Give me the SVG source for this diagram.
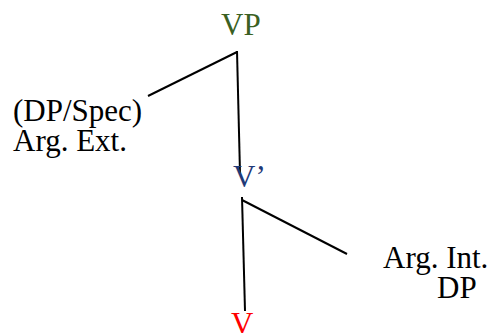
<svg xmlns="http://www.w3.org/2000/svg" width="491" height="333" viewBox="0 0 491 333">
<style>
text{font-family:"Liberation Serif","Times New Roman",serif;font-size:31px;fill:#000}
.e{stroke:#000;stroke-width:2;fill:none}
</style>
<rect width="491" height="333" fill="#fff"/>
<g id="connectors">
<line class="e" x1="237" y1="51" x2="240" y2="173"/>
<line class="e" x1="237" y1="52" x2="148" y2="96"/>
<line class="e" x1="242" y1="197" x2="245" y2="311"/>
<line class="e" x1="242" y1="200" x2="347" y2="254"/>
</g>
<g id="VP"><text x="221" y="35" style="fill:#3a6022">VP</text></g>
<g id="Vbar"><text x="233" y="187" style="fill:#1f3a78">V’</text></g>
<g id="V"><text x="231" y="334" style="fill:#ff0000">V</text></g>
<g id="ArgExt"><text x="13" y="121">(DP/Spec)</text><text x="13" y="151">Arg. Ext.</text></g>
<g id="ArgInt"><text x="383" y="268">Arg. Int.</text><text x="437" y="298">DP</text></g>
</svg>
